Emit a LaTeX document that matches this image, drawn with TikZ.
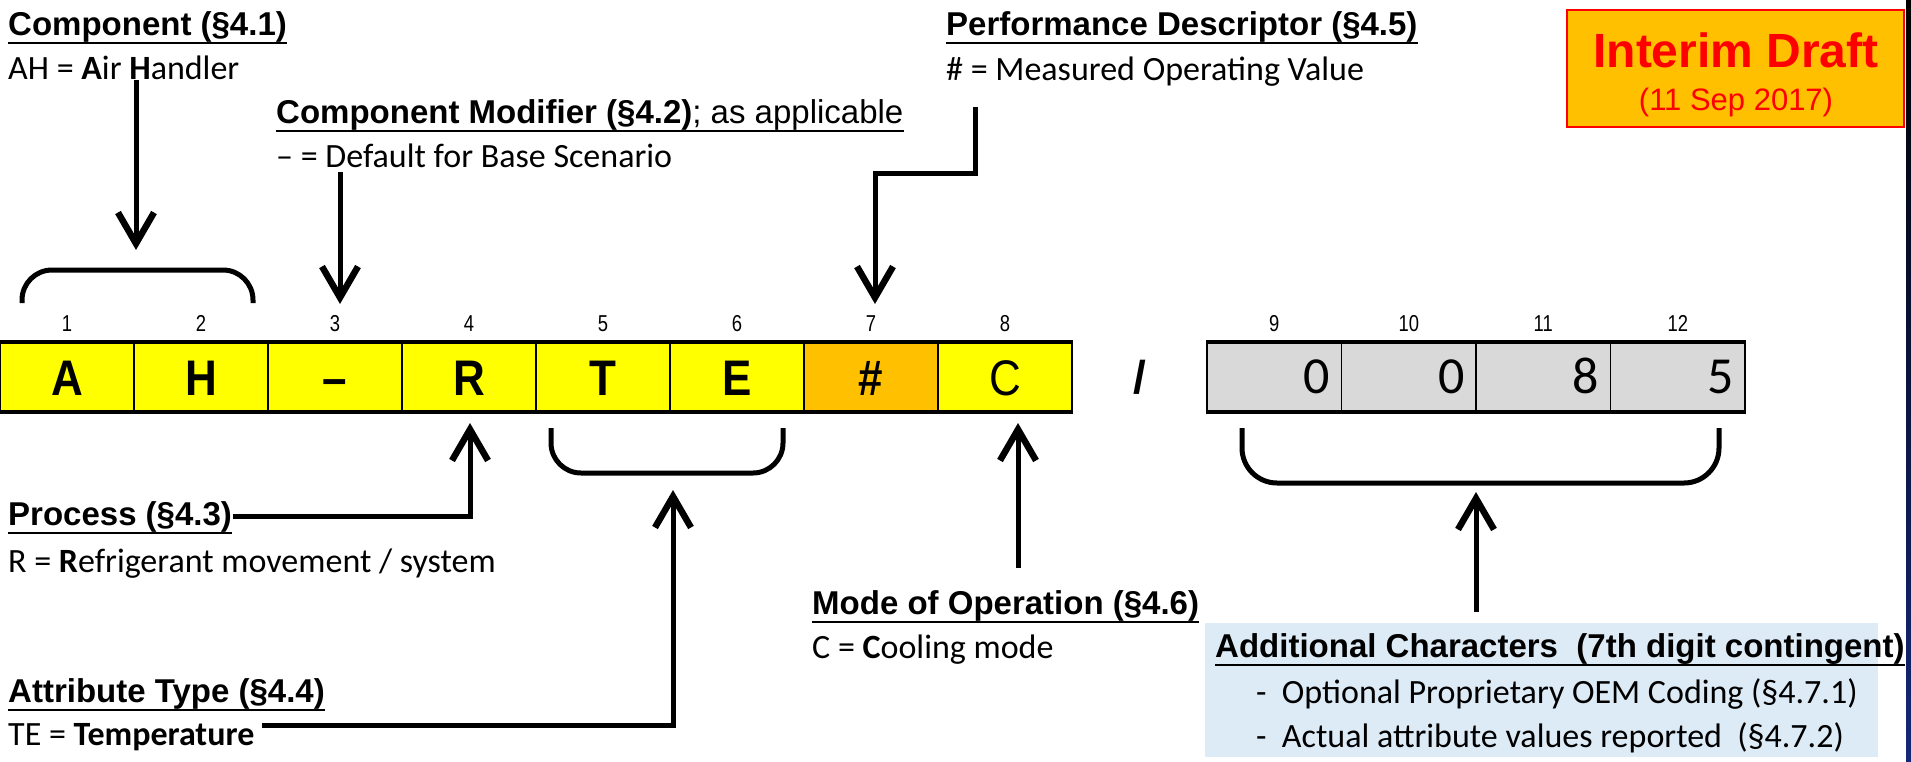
\documentclass[tikz,border=0pt]{standalone}
\usepackage{graphicx}
\usepackage{fontspec}
\setmainfont{Carlito}
\newfontfamily\arialf{Liberation Sans}
\usetikzlibrary{arrows.meta}
\definecolor{cyel}{HTML}{FFFF00}
\definecolor{corg}{HTML}{FFC000}
\definecolor{cgry}{HTML}{D9D9D9}
\definecolor{cblu}{HTML}{DDEBF7}
\definecolor{cred}{HTML}{FF0000}
\definecolor{cnavy}{HTML}{142878}
\newcommand\nrw[1]{\scalebox{0.88}[1]{#1}}
\newcommand\nnum[1]{\scalebox{0.8}[1]{#1}}
\begin{document}
\begin{tikzpicture}[x=1pt,y=-1pt,
  hdr/.style={anchor=base west, inner sep=0pt, font=\arialf\bfseries\fontsize{33}{40}\selectfont},
  bdy/.style={anchor=base west, inner sep=0pt, font=\fontsize{34}{40}\selectfont},
  ul/.style={line width=2.5pt},
  conn/.style={line width=5pt, -{Straight Barb[length=31pt,width=36pt,line width=6.5pt]}},
  brk/.style={line width=5pt, rounded corners=30pt},
  cell/.style={draw, line width=1.5pt, minimum width=134pt, minimum height=70pt, inner sep=0pt, text height=36pt, text depth=0pt, font=\arialf\bfseries\fontsize{50}{50}\selectfont},
  ycell/.style={cell, fill=cyel},
  gcell/.style={cell, fill=cgry, minimum width=134.5pt, text width=112pt, align=right, inner xsep=11.25pt, text height=33pt, font=\fontsize{52}{52}\selectfont},
  num/.style={inner sep=0pt, font=\arialf\fontsize{23}{23}\selectfont},
  draftbox/.style={draw=cred, fill=corg, line width=2.5pt}
]
\useasboundingbox (0,0) rectangle (1911,761);
\fill[white] (0,0) rectangle (1911,761);
\shade[top color=black, bottom color=cnavy] (1906,0) rectangle (1911,761);

% ---- Interim draft box
\draw[draftbox] (1567,10) rectangle (1904,127);
\node[inner sep=0pt, anchor=base, text=cred, font=\arialf\bfseries\fontsize{48}{48}\selectfont] (d1) at (1736,67) {Interim Draft};
\node[inner sep=0pt, anchor=base, text=cred, font=\arialf\fontsize{31}{31}\selectfont] (d2) at (1736,110) {(11 Sep 2017)};

% ---- code bar
\node[ycell] (c1) at (67,377) {\nrw{A}};
\node[ycell] (c2) at (201,377) {\nrw{H}};
\node[ycell] (c3) at (335,377) {\nrw{–}};
\node[ycell] (c4) at (469,377) {\nrw{R}};
\node[ycell] (c5) at (603,377) {\nrw{T}};
\node[ycell] (c6) at (737,377) {\nrw{E}};
\node[cell, fill=corg] (c7) at (871,377) {\nrw{\#}};
\node[ycell] (c8) at (1005,377) {\nrw{\mdseries C}};
\draw[line width=4pt] ([yshift=-1pt]c1.north west) -- ([yshift=-1pt]c8.north east);
\draw[line width=4pt] ([yshift=1pt]c1.south west) -- ([yshift=1pt]c8.south east);

\node[inner sep=0pt, font=\arialf\bfseries\fontsize{46}{46}\selectfont] (sl) at (1140,377) {/};

\node[gcell] (g1) at (1274.25,377) {0};
\node[gcell] (g2) at (1408.75,377) {0};
\node[gcell] (g3) at (1543.25,377) {8};
\node[gcell] (g4) at (1677.75,377) {5};
\draw[line width=4pt] ([yshift=-1pt]g1.north west) -- ([yshift=-1pt]g4.north east);
\draw[line width=4pt] ([yshift=1pt]g1.south west) -- ([yshift=1pt]g4.south east);

% position numbers
\foreach \i/\x in {1/67,2/201,3/335,4/469,5/603,6/737,7/871,8/1005,9/1274.25,10/1408.75,11/1543.25,12/1677.75}
  \node[num, anchor=base] (n\i) at (\x,331) {\nnum{\i}};

% ---- texts
\node[hdr] (hC) at (8,35) {Component (§4.1)};
\draw[ul] ([yshift=-8pt]hC.base west) -- ([yshift=-8pt]hC.base east);
\node[bdy] (bC) at (8,79) {AH = \textbf{A}ir \textbf{H}andler};

\node[hdr] (hCM) at (276,123) {Component Modifier (§4.2){\mdseries; as applicable}};
\draw[ul] ([yshift=-8pt]hCM.base west) -- ([yshift=-8pt]hCM.base east);
\node[bdy] (bCM) at (276,167) {– = Default for Base Scenario};

\node[hdr] (hPD) at (946,35) {Performance Descriptor (§4.5)};
\draw[ul] ([yshift=-8pt]hPD.base west) -- ([yshift=-8pt]hPD.base east);
\node[bdy] (bPD) at (946,80) {\# = Measured Operating Value};

\node[hdr] (hP) at (8,525) {Process (§4.3)};
\draw[ul] ([yshift=-8pt]hP.base west) -- ([yshift=-8pt]hP.base east);
\node[bdy] (bP) at (8,572) {R = \textbf{R}efrigerant movement / system};

\node[hdr] (hAT) at (8,702) {Attribute Type (§4.4)};
\draw[ul] ([yshift=-8pt]hAT.base west) -- ([yshift=-8pt]hAT.base east);
\node[bdy] (bAT) at (8,745) {TE = \textbf{Temperature}};

\node[hdr] (hM) at (812,614) {Mode of Operation (§4.6)};
\draw[ul] ([yshift=-8pt]hM.base west) -- ([yshift=-8pt]hM.base east);
\node[bdy] (bM) at (812,658) {C = \textbf{C}ooling mode};

\fill[cblu] (1205,623) rectangle (1878,757);
\node[hdr] (hA) at (1215,657) {Additional Characters~~(7th digit contingent)};
\draw[ul] ([yshift=-8pt]hA.base west) -- ([yshift=-8pt]hA.base east);
\node[bdy] (bA1) at (1256,703) {-~~Optional Proprietary OEM Coding (§4.7.1)};
\node[bdy] (bA2) at (1256,747) {-~~Actual attribute values reported~~(§4.7.2)};

% ---- brackets
\draw[brk] (22,303) -- (22,270) -- (253,270) -- (253,303);
\draw[brk] (551,428) -- (551,473) -- (783,473) -- (783,428);
\draw[brk, rounded corners=35pt] (1242,428) -- (1242,483) -- (1719,483) -- (1719,428);

% ---- connector end points
\coordinate (s1) at (136,80);   \coordinate (t1) at (136,250);
\coordinate (s2) at (340,172);  \coordinate (t2) at (340,304);
\coordinate (s3) at (975,107);  \coordinate (k3) at (875,173); \coordinate (t3) at (875,304);
\coordinate (t4) at (470,423);
\coordinate (s5) at (262,725);  \coordinate (t5) at (673,490);
\coordinate (s6) at (1018,568); \coordinate (t6) at (1018,423);
\coordinate (s7) at (1476,612); \coordinate (t7) at (1476,492);

\draw[conn] (s1) -- (t1);
\draw[conn] (s2) -- (t2);
\draw[conn] (s3) |- (k3) -- (t3);
\draw[conn] ([xshift=1pt]hP.east) -| (t4);
\draw[conn] (s5) -| (t5);
\draw[conn] (s6) -- (t6);
\draw[conn] (s7) -- (t7);
\end{tikzpicture}
\end{document}
